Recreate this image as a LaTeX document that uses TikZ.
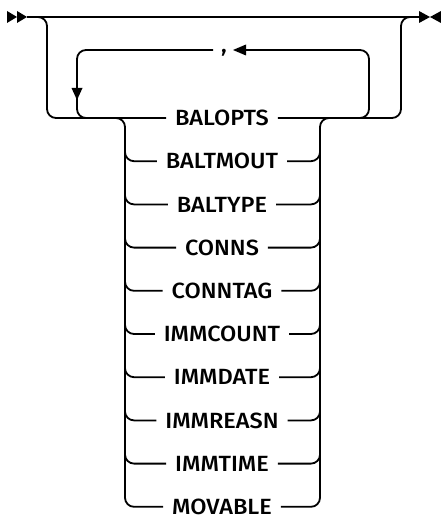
\documentclass[tikz,border=0pt]{standalone}
\usepackage{fontspec}
\setmainfont{Fira Sans}[UprightFont={* Medium}, FakeStretch=1.07]
\begin{document}
\begin{tikzpicture}[x=1pt,y=-1pt,line width=1.8pt,
  lbl/.style={font=\fontsize{22}{24}\selectfont, inner sep=0pt, outer sep=0pt, anchor=center},
  rc/.style={rounded corners=9pt},
  tip/.style={fill=black, draw=none}]
\useasboundingbox (0,0) rectangle (441,516);
\def\dy{43.2}
\def\gap{9pt}
% start and end markers
\coordinate (s) at (27,17);
\coordinate (e) at (420,17);
\fill[tip] (7,11) -- (17,17) -- (7,23) -- cycle;
\fill[tip] (17,11) -- (27,17) -- (17,23) -- cycle;
\fill[tip] (419,11) -- (430,17) -- (419,23) -- cycle;
\fill[tip] (441,11) -- (430,17) -- (441,23) -- cycle;
\draw (s) -- (e);
% labels
\foreach \t [count=\i from 0] in {BALOPTS,BALTMOUT,BALTYPE,CONNS,CONNTAG,IMMCOUNT,IMMDATE,IMMREASN,IMMTIME,MOVABLE}{
  \node[lbl] (r\i) at (222,118+\dy*\i) {\t};
}
\node[font=\fontsize{22}{24}\selectfont, inner sep=0pt, anchor=base] (comma) at (224,53) {,};
% bypass
\draw[rc] (37,17) -- (47,17) -- (47,118) -- ([xshift=-\gap]r0.west);
\draw[rc] ([xshift=\gap]r0.east) -- (401,118) -- (401,17) -- (e);
% repeat loop
\coordinate (la) at (213,50);
\coordinate (ra) at (235,50);
\draw[rc] (la) -- (77,50) -- (77,118) -- (100,118);
\fill[tip] (71.5,88) -- (82.5,88) -- (77,100) -- cycle;
\draw[rc] (345,118) -- (369,118) -- (369,50) -- (ra);
\fill[tip] (246,44.5) -- (233,50) -- (246,55.5) -- cycle;
% choice block
\draw[rc] (112,118) -- (125,118) -- (125,118+9*\dy) -- ([xshift=-\gap]r9.west);
\draw[rc] ([xshift=\gap]r9.east) -- (320,118+9*\dy) -- (320,118) -- (333,118);
\foreach \i in {1,...,8}{
  \draw[rc] (125,118+\dy*\i-12) -- (125,118+\dy*\i) -- ([xshift=-\gap]r\i.west);
  \draw[rc] ([xshift=\gap]r\i.east) -- (320,118+\dy*\i) -- (320,118+\dy*\i-12);
}
\end{tikzpicture}
\end{document}
